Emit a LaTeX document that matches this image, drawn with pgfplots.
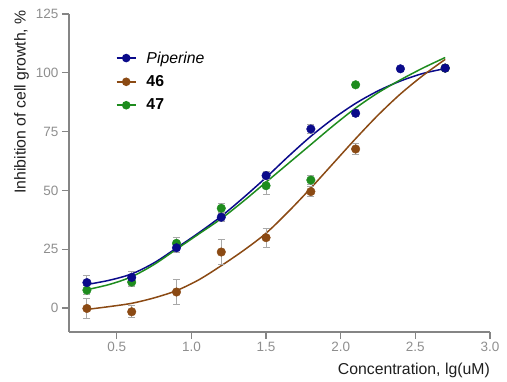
\documentclass[border=0pt]{standalone}
\usepackage{fontspec}
\setmainfont{Liberation Sans}
\usepackage{pgfplots}
\usepackage{pgfplotstable}
\pgfplotsset{compat=1.18}
\definecolor{cblue}{HTML}{0A0A8A}
\definecolor{cbrown}{HTML}{8B4A14}
\definecolor{cgreen}{HTML}{1E8C1E}
\definecolor{axgray}{HTML}{858585}
\definecolor{tickgray}{HTML}{8E8E8E}
\definecolor{errgray}{HTML}{A8A8A8}

\pgfplotstableread{
x y e
0.3 10.8 3.0
0.6 13.0 2.5
0.9 25.6 2.0
1.2 38.6 2.0
1.5 56.3 1.7
1.8 76.1 2.0
2.1 82.8 1.5
2.4 101.7 1.0
2.7 102.0 1.0
}\pipdata
\pgfplotstableread{
x y e
0.3 -0.2 4.4
0.6 -1.6 2.5
0.9 6.8 5.2
1.2 23.8 5.3
1.5 29.9 4.1
1.8 49.5 2.0
2.1 67.6 2.5
2.7 102.0 1.0
}\browndata
\pgfplotstableread{
x y e
0.3 7.6 2.0
0.6 11.0 2.0
0.9 27.5 2.5
1.2 42.4 2.1
1.5 52.0 3.8
1.8 54.4 2.0
2.1 94.9 1.0
2.7 102.0 1.0
}\greendata

\pgfplotstableread{
x y
0.3 10.0
0.45 11.8
0.6 14.5
0.75 19.2
0.9 25.5
1.05 32.0
1.2 39.0
1.35 47.0
1.5 55.5
1.65 64.5
1.8 73.0
1.95 80.5
2.1 87.0
2.25 92.3
2.4 96.5
2.55 99.7
2.7 101.8
}\pipfit
\pgfplotstableread{
x y
0.3 -0.6
0.45 0.6
0.6 2.0
0.75 4.3
0.9 7.4
1.05 12.0
1.2 18.0
1.35 24.5
1.5 31.8
1.65 41.0
1.8 51.0
1.95 61.5
2.1 72.0
2.25 82.0
2.4 91.0
2.55 98.8
2.7 105.7
}\brownfit
\pgfplotstableread{
x y
0.3 7.8
0.45 10.0
0.6 13.3
0.75 18.5
0.9 25.0
1.05 31.5
1.2 38.0
1.35 45.5
1.5 53.5
1.65 61.5
1.8 69.5
1.95 77.5
2.1 85.0
2.25 91.5
2.4 97.0
2.55 102.0
2.7 106.5
}\greenfit

\begin{document}
\begin{tikzpicture}
\useasboundingbox (-69pt,-50pt) rectangle (438pt,332pt);
\begin{axis}[
  at={(0pt,0pt)}, anchor=south west,
  scale only axis, width=421pt, height=318pt,
  xmin=0.18, xmax=3.0, ymin=-10.2, ymax=125,
  axis lines=left,
  axis line style={axgray, line width=1.2pt, -},
  tick align=outside,
  major tick length=7pt,
  tick style={axgray, line width=1.2pt},
  xtick={0.5,1.0,1.5,2.0,2.5,3.0},
  ytick={0,25,50,75,100,125},
  xticklabel style={/pgf/number format/fixed, /pgf/number format/precision=1, /pgf/number format/fixed zerofill},
  /pgf/number format/assume math mode=true,
  ticklabel style={font=\fontsize{13.5}{15}\selectfont, text=tickgray},
  xlabel={Concentration, lg(uM)},
  ylabel={Inhibition of cell growth, \%},
  label style={font=\fontsize{15.8}{18}\selectfont, text=black!88},
  xlabel style={at={(axis description cs:1,0)}, anchor=north east, yshift=-31pt, inner sep=0pt},
  ylabel style={at={(axis description cs:0,1)}, anchor=south east, yshift=40pt, xshift=4pt, inner sep=0pt},
  clip=false,
  legend style={draw=none, fill=none, at={(0.104,0.895)}, anchor=north west,
    font=\fontsize{15.8}{18}\selectfont, row sep=7pt},
  legend cell align=left,
  legend image code/.code={\draw[#1, mark repeat=2, mark phase=2] plot coordinates {(0pt,0pt)(9.5pt,0pt)(19pt,0pt)};},
]
% fitted curves
\addplot[cblue, line width=1.5pt, smooth, forget plot] table[x=x,y=y]{\pipfit};
\addplot[cbrown, line width=1.5pt, smooth, forget plot] table[x=x,y=y]{\brownfit};
\addplot[cgreen, line width=1.5pt, smooth, forget plot] table[x=x,y=y]{\greenfit};
% error bars
\addplot[draw=none, mark=none, forget plot, error bars/.cd, y dir=both, y explicit,
  error bar style={errgray, line width=1pt}, error mark options={errgray, mark size=3.5pt, line width=1pt, rotate=90}]
  table[x=x,y=y,y error=e]{\browndata};
\addplot[draw=none, mark=none, forget plot, error bars/.cd, y dir=both, y explicit,
  error bar style={errgray, line width=1pt}, error mark options={errgray, mark size=3.5pt, line width=1pt, rotate=90}]
  table[x=x,y=y,y error=e]{\greendata};
\addplot[draw=none, mark=none, forget plot, error bars/.cd, y dir=both, y explicit,
  error bar style={errgray, line width=1pt}, error mark options={errgray, mark size=3.5pt, line width=1pt, rotate=90}]
  table[x=x,y=y,y error=e]{\pipdata};
% points
\addplot[only marks, mark=*, mark size=4.3pt, mark options={draw=cbrown, fill=cbrown}, forget plot] table[x=x,y=y]{\browndata};
\addplot[only marks, mark=*, mark size=4.3pt, mark options={draw=cgreen, fill=cgreen}, forget plot] table[x=x,y=y]{\greendata};
\addplot[only marks, mark=*, mark size=4.3pt, mark options={draw=cblue, fill=cblue}, forget plot] table[x=x,y=y]{\pipdata};
% legend
\addlegendimage{cblue, line width=1.5pt, mark=*, mark size=3.5pt, mark options={fill=cblue}}
\addlegendentry{\hspace*{8pt}\textit{Piperine}}
\addlegendimage{cbrown, line width=1.5pt, mark=*, mark size=3.5pt, mark options={fill=cbrown}}
\addlegendentry{\hspace*{8pt}\textbf{46}}
\addlegendimage{cgreen, line width=1.5pt, mark=*, mark size=3.5pt, mark options={fill=cgreen}}
\addlegendentry{\hspace*{8pt}\textbf{47}}
\end{axis}
\end{tikzpicture}
\end{document}
